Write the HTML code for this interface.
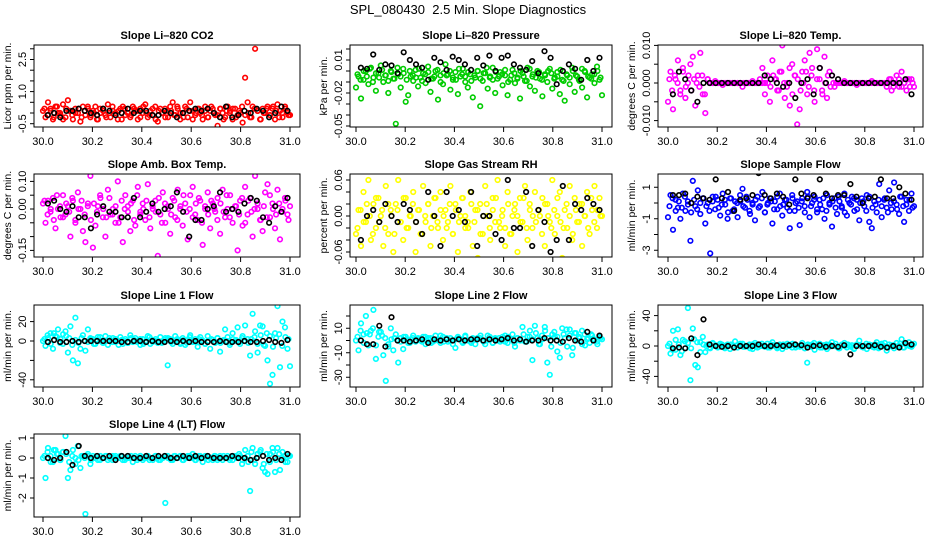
<!DOCTYPE html>
<html><head><meta charset="utf-8"><title>SPL_080430 2.5 Min. Slope Diagnostics</title>
<style>
html,body{margin:0;padding:0;background:#fff;}
svg{display:block;font-family:"Liberation Sans",Arial,sans-serif;}
</style></head>
<body>
<svg id="chart" width="936" height="540" viewBox="0 0 936 540">
<rect width="936" height="540" fill="#fff"/>
<text x="468" y="14" text-anchor="middle" font-size="13">SPL_080430&#160;&#160;2.5 Min. Slope Diagnostics</text>
</svg>
<script>
// ---- data (index-ordered samples over 30.0 .. 31.0) ----
const xTickLabels = ["30.0","30.2","30.4","30.6","30.8","31.0"];
const xTickValues = [30.0,30.2,30.4,30.6,30.8,31.0];

const co2Red = [0.1,-0.2,0.5,0.2,-0.3,0.3,0.0,-0.1,0.4,-0.2,0.6,0.1,-0.3,0.2,0.0,-0.4,0.3,-0.1,0.2,-0.2,0.1,0.3,-0.3,0.0,0.2,-0.1,0.4,-0.2,0.1,0.0,-0.3,0.2,0.3,-0.1,0.0,-0.2,0.3,0.1,-0.3,0.2,0.0,0.4,-0.2,0.1,-0.1,0.3,-0.4,0.2,0.0,-0.2,0.1,0.3,0.5,-0.1,0.2,-0.3,0.0,0.3,-0.2,0.5,0.1,-0.1,0.2,0.0,-0.3,0.3,-0.2,0.1,0.2,-0.1,-0.6,0.2,0.0,-0.2,0.3,0.1,-0.3,0.2,-0.1,0.0,-0.45,1.65,0.5,-0.2,0.3,3.0,0.1,-0.3,0.2,0.0,0.3,-0.1,0.2,-0.3,0.4,0.1,-0.2,0.3,0.0,-0.1];
const co2Core = [0.2,-0.1,0.1,-0.2,0.3,0.0,-0.3,0.2,0.1,-0.1,0.0,0.2,-0.2,0.1,0.3,-0.1,0.0,-0.3,0.2,0.1,-0.2,0.0,0.3,-0.1,0.1,-0.3,0.2,0.0,-0.1,0.2,0.1,-0.2,0.3,0.0,-0.1,0.2,-0.3,0.1,0.0,0.2,-0.2,0.1,-0.1,0.3,0.0,-0.2,0.2,0.1,-0.3,0.0,0.2,-0.1,0.1,-0.2,0.3,0.0,-0.1,0.2,-0.3,0.1,0.0,0.2,-0.2,0.1,0.3,-0.1,0.0,-0.2,0.2,0.1,-0.3,0.0,0.2,-0.1,0.3,0.1,-0.2,0.0,0.2,-0.1];
const co2Black = [-0.1,0.0,-0.2,0.1,0.1,0.2,0.1,0.0,-0.1,0.2,0.1,-0.1,0.0,0.2,0.0,0.1,0.1,-0.1,-0.1,0.1,0.0,-0.2,0.0,0.1,0.2,0.1,0.2,0.0,-0.2,0.3,-0.2,-0.1,0.1,0.0,0.2,0.1,-0.2,0.0,0.3,0.1];

const pressureGreenMilli = [-15,-5,-25,-8,0,-12,3,-6,-18,-2,5,-10,-4,-20,0,-7,-48,-3,-15,2,-28,-22,-5,-9,1,-14,-6,-2,-11,4,-19,-7,0,-26,-4,-12,6,-3,-17,-8,-1,-21,-5,2,-10,-15,-3,-24,-6,0,-32,-9,-2,-16,-5,3,-20,-7,-1,-13,-4,-22,-8,1,-11,-6,-25,-2,-9,3,-14,-5,-18,0,-7,-23,-3,-10,2,-16,-6,-1,-21,-8,-27,-4,-12,3,-19,-5,-9,-15,0,-24,-6,-3,-11,4,-8,-22];
const pressureCoreMilli = [-3,-8,0,-5,2,-10,-2,-6,1,-4,-9,-1,-7,3,-5,-2,-8,0,-4,-6,2,-9,-3,-1,-7,-5,1,-10,-2,-4,0,-6,-8,2,-3,-5,-1,-9,-4,0,-7,-2,3,-6,-8,-1,-5,-3,1,-10,-4,-2,-7,0,-5,-9,2,-3,-6,-1,-8,-4,0,-2,-7,-5,1,-9,-3,-6,0,-4,-8,2,-1,-5,-7,-3,0,-6];
const pressureBlackMilli = [3,2,15,1,6,5,-2,17,10,6,3,-8,12,8,1,13,10,6,1,12,5,14,0,12,14,6,3,1,9,-2,18,12,-12,0,6,2,-8,10,0,12];

const tempMagentaMilli = [-5,3,-7,1,6,-2,4,-4,0,5,7,-6,2,8,-3,-8,1,0,0,0.5,0,0,-0.5,0,0,0,0,0,0,0,-1,0,0,0,0.5,0,0,1,4,-3,2,-5,6,1,-2,3,10,-4,0,-6,5,2,-11,-7,3,6,-3,8,4,-5,9,1,-2,7,-4,3,2,-1,0,0,0,0.5,0,0,0,0,-0.5,0,0,0,0,0,0.5,0,0,0,0,0,-1,1,-2,0,2,-1,3,0,-2,1,1,-1];
const tempCoreMilli = [1,-2,2,0,-3,3,-1,2,-2,1,0,-1,2,-3,1,0,0,0,0,0,0,0,0,0,0,0,0,0,0,0,0,0,0,0,0,0,0,-1,2,1,-2,3,0,-1,4,-3,2,1,-2,0,3,-1,2,-2,1,4,-3,0,2,-1,0,0,0,0,0,0,0,0,0,0,0,0,0,0,0,0,0,0,0,0,0,1,-1,0,1,-1,0,1,-1,0];
const tempBlackMilli = [-3,3,1,-2,-5,0,0,0,0,0,0,0,0,0,0,2,1,0,-1,0,-4,0,1,-3,4,0,2,1,0,0,0,0,0,0,0,0,0,0,1,-3];

const boxTempMagentaCenti = [2,-5,3,-1,4,-7,0,-3,5,-2,1,-10,3,-4,6,0,-8,-12,2,12,-14,-6,1,4,-3,-10,7,-2,0,-5,10,-3,-12,5,1,-8,3,-6,8,-1,2,-4,9,-7,0,3,-17,-2,6,-5,1,-9,4,-3,7,0,-6,2,-11,5,8,-2,-4,3,-13,0,6,-7,2,-1,4,-9,7,-3,0,5,-5,1,-15,3,-6,8,-2,4,-10,12,0,-4,-8,6,9,-3,2,-7,7,-11,0,4,-2,1];
const boxTempCoreCenti = [3,-2,0,-4,5,1,-3,2,-1,4,-5,0,3,-2,1,-4,2,-1,5,0,-3,4,-2,1,-5,3,0,-1,2,-4,5,-2,0,3,-3,1,-1,4,-5,2,0,-2,3,-4,1,5,-1,0,-3,2,4,-5,1,-2,3,0,-4,2,-1,5,-3,0,1,-2,4,-5,3,-1,0,2,-4,1,-3,5,0,-2,2,-1,3,-4];
const boxTempBlackCenti = [2,3,0,-1,1,-3,-3,-7,-2,1,-1,-1,-3,-3,4,-3,-1,2,-1,0,1,6,-1,-10,-4,-4,0,1,6,-1,0,-1,2,4,3,-3,-5,1,-1,4];

const rhYellowCenti = [-3,1,-5,4,-1,6,-4,2,-2,3,0,-5,5,-3,1,-6,2,6,-1,-4,3,-2,0,4,-6,1,-3,5,-1,2,-5,0,3,-2,4,-4,1,-1,5,-3,2,-6,0,3,-2,-1,4,-5,1,-7,2,-3,5,0,-4,3,-1,6,-2,1,-5,4,-3,0,2,-6,3,-1,5,-4,1,-2,4,-8,0,3,-5,2,-1,6,-3,0,4,-7,1,-2,5,-4,3,-1,2,-5,0,4,-3,1,5,-2,3,0];
const rhCoreCenti = [-2,1,-1,2,0,-3,3,-1,1,-2,2,0,-3,1,-1,3,-2,0,2,-1,1,-3,0,2,-2,3,-1,1,0,-2,2,-3,1,-1,3,0,-2,2,-1,1,-3,0,2,-2,1,3,-1,0,-2,2,-3,1,0,-1,3,-2,2,0,-1,1,-3,2,0,-2,1,3,-1,-2,2,0,-3,1,-1,2,0,-2,3,-1,1,0];
const rhBlackCenti = [-4,0,1,-1,2,0,-1,2,1,-1,-3,4,0,-5,4,0,1,-1,4,-5,0,0,-3,-4,6,-2,-2,4,-5,1,-1,-6,-4,5,-4,2,1,3,2,1];

const sampleFlowBlue = [-0.9,0.5,-1.7,0.2,-0.3,-1.0,0.6,-0.5,0.1,-2.4,1.4,-0.2,0.8,-0.7,0.3,-1.3,0.0,-3.2,0.4,-0.4,0.2,-0.8,0.6,-0.1,-1.0,0.3,-0.5,0.1,-0.9,0.5,0.9,-0.3,0.2,-0.7,0.0,-1.1,0.4,-0.2,0.7,-0.6,-0.1,0.3,-1.3,0.1,-0.4,0.6,-0.8,0.2,-0.3,-1.6,0.5,-0.5,0.1,-1.4,0.3,-0.2,0.7,-0.9,0.0,0.4,-0.6,0.2,-0.4,-1.0,0.5,-0.1,-1.5,0.3,-0.7,0.1,-0.3,0.6,-0.8,0.0,0.4,-0.5,0.2,-1.1,0.3,-0.2,0.5,-1.2,-1.6,0.1,-0.6,1.2,-0.9,0.2,-0.3,0.8,-0.4,1.3,-0.1,-0.7,0.4,-1.2,0.2,-0.5,0.6,-0.2];
const sampleFlowCore = [-0.2,0.3,-0.5,0.1,-0.3,0.4,-0.1,-0.6,0.2,-0.4,0.0,0.3,-0.2,-0.5,0.1,0.4,-0.3,-0.1,0.2,-0.6,0.3,-0.4,0.0,0.1,-0.2,0.4,-0.5,-0.1,0.2,-0.3,0.3,-0.6,0.0,0.1,-0.4,0.4,-0.2,-0.1,0.2,-0.5,0.3,0.0,-0.3,0.1,-0.6,0.4,-0.2,0.2,-0.4,-0.1,0.3,-0.5,0.0,0.1,-0.3,0.4,-0.2,-0.6,0.2,-0.1,0.3,-0.4,0.0,0.1,-0.5,0.4,-0.3,-0.1,0.2,-0.2,0.3,-0.6,0.0,0.1,-0.4,0.4,-0.2,-0.1,0.2,-0.3];
const sampleFlowBlack = [0.5,0.5,0.6,0.0,0.4,0.3,0.2,1.5,0.3,0.7,-0.5,0.2,0.3,0.5,1.9,0.5,0.3,0.6,0.4,-0.1,1.5,0.6,0.3,0.5,1.5,0.6,0.3,0.5,0.5,1.2,0.4,0.0,0.3,0.4,1.5,0.3,0.3,1.0,0.6,0.2];

const line1Cyan = [0,-5,3,8,-8,5,12,2,-3,10,-12,15,-20,24,-23,-8,6,-10,12,3,2,-3,4,0,-2,5,-4,1,3,-1,0,4,-3,2,-2,6,-1,3,0,-4,2,-1,5,-3,1,0,-2,4,-1,3,-25,2,-3,5,0,-2,3,-4,1,6,-1,2,-6,4,0,-3,5,-8,1,-2,3,-11,0,12,4,-2,8,0,14,-3,5,16,2,-15,28,10,-12,16,15,-5,-20,-44,-35,8,36,-27,20,14,-8,-26];
const line1Core = [2,6,-3,8,4,-2,7,5,3,-4,1,-2,3,0,-1,2,-3,1,4,-2,0,3,-1,2,-4,1,0,-2,3,1,-1,2,-3,0,4,-1,2,0,-2,1,3,-1,0,2,-3,1,-2,4,0,-1,2,1,-3,0,2,-1,3,-2,1,0,-4,2,1,-1,3,0,-2,2,4,-3,6,-4,8,5,-6,3,7,-5,4,2];
const line1Black = [-1,1,-1,-1,0,-1,0,0,0,0,0,0,-1,-1,0,0,-1,0,-1,-1,0,-1,0,-1,0,-1,-1,-1,0,-1,-1,-1,0,-1,-1,0,1,-1,-2,1];

const line2Cyan = [0,-8,14,5,20,-4,8,25,-15,3,7,-12,-33,-5,10,-8,5,-18,2,-7,3,-2,1,4,-1,2,0,3,-3,1,2,-1,4,0,-2,3,1,-1,2,0,-6,3,1,-2,4,0,-1,2,-3,1,2,0,-3,4,1,-2,2,0,-1,3,4,-2,1,5,-5,2,0,11,-1,3,8,-16,12,2,-3,1,11,-18,-28,5,3,-9,-14,10,2,-5,9,-12,6,0,2,-3,5,1,-2,4,0,-1,3,1];
const line2Core = [3,8,-2,6,5,10,-4,7,4,2,-3,1,2,0,-1,3,1,-2,2,0,1,-1,3,2,-2,0,1,4,-1,2,0,-3,1,2,-1,3,0,-2,1,2,4,-1,0,3,-2,1,2,0,-1,3,1,-2,2,0,5,-1,3,1,6,-3,4,8,2,-5,7,3,-2,5,9,4,-6,6,3,8,-4,2,5,1,-3,2];
const line2Black = [0,-3,-3,12,-5,19,0,0,-1,0,1,-2,1,0,1,0,1,0,1,1,0,1,0,1,2,0,1,-1,0,0,2,0,0,-1,2,0,-1,7,0,4];

const line3Cyan = [0,-10,20,-5,22,-12,8,-3,50,-45,23,-25,-28,5,12,-8,2,-3,4,0,-2,3,1,-1,2,-4,0,6,-2,1,3,-1,0,-3,2,4,-2,1,0,-1,3,-2,5,0,-1,2,-4,1,3,0,-2,2,0,-1,4,-3,-22,1,2,-5,0,3,-2,1,-4,2,5,0,-1,-3,2,4,-2,0,1,-3,2,7,-1,0,-4,2,1,-2,5,-1,3,0,-6,2,1,-3,4,0,9,-2,1,5,-1,3];
const line3Core = [3,-5,8,2,-7,6,4,-3,9,5,-8,2,0,-2,3,1,-1,2,-3,0,2,-2,1,3,-1,0,2,-4,1,-1,3,0,-2,2,1,-3,0,2,-1,1,3,-2,0,1,-3,2,-1,4,0,-2,1,2,-1,0,3,-3,1,0,2,-1,-4,2,1,-2,3,0,-1,2,-3,1,4,-2,0,1,-1,3,-2,2,0,1];
const line3Black = [-3,-2,-3,10,-12,35,2,0,-1,0,-2,0,0,0,2,0,0,1,0,1,2,1,-2,0,1,-1,0,-1,1,-11,0,0,0,1,-1,-2,0,-2,4,2];

const line4Cyan = [0,-1.0,0.5,0.1,-0.2,0.4,0.2,-0.1,0.3,1.1,-1.0,-0.6,0.4,-0.3,0.6,-0.5,0.1,-2.8,0.2,-0.3,0.1,0.0,-0.1,0.1,0.0,0.1,-0.1,0.0,0.1,0.0,0.0,0.1,-0.1,0.0,0.1,0.0,-0.2,0.1,0.0,0.1,-0.1,0.0,0.1,0.0,-0.1,0.1,0.0,-0.1,0.0,-2.25,0.1,0.0,-0.1,0.1,0.0,0.1,-0.1,0.0,0.1,0.0,0.2,-0.1,0.0,0.1,-0.2,0.0,0.1,0.0,-0.1,0.1,0.0,0.1,-0.1,0.0,0.1,0.0,-0.1,0.1,0.0,0.1,-0.1,0.0,0.1,-1.65,0.5,-0.3,0.2,0.3,-0.5,-0.7,-0.8,0.2,0.5,-0.7,0.5,-0.6,0.3,0.1,-0.2,0.1];
const line4Core = [0.1,0.3,-0.2,0.4,0.2,-0.1,0.3,0.2,-0.2,0.1,0.0,-0.1,0.1,0.0,0.1,-0.1,0.0,0.1,-0.1,0.0,0.1,0.0,-0.1,0.1,0.0,0.1,-0.1,0.0,0.1,0.0,-0.1,0.1,0.0,0.1,-0.1,0.0,0.1,-0.1,0.0,0.1,0.0,-0.1,0.1,0.0,0.1,-0.1,0.0,0.1,0.0,-0.1,0.1,0.0,0.1,-0.1,0.0,0.1,-0.1,0.0,0.1,0.0,-0.1,0.1,0.0,0.2,-0.3,0.4,-0.2,0.3,-0.1,0.2,0.4,-0.3,0.2,-0.2,0.3,-0.1,0.2,0.0,-0.2,0.1];
const line4Black = [0,-0.1,0.0,0.3,-0.35,0.6,0.1,0.0,0.1,0.0,0.1,-0.1,0.1,0.1,0.0,0.0,0.1,0.0,0.1,0.1,0.0,0.0,0.1,0.0,0.1,0.0,0.1,0.0,0.0,0.0,0.1,0.0,0.0,-0.1,0.0,0.1,-0.1,0.0,-0.1,0.2];

// ---- layout ----
const NS = "http://www.w3.org/2000/svg";
const svg = document.getElementById("chart");
const cols = [{l:34,r:300,x0:43,x1:290},{l:350,r:612,x0:356,x1:602},{l:658,r:923,x0:668,x1:914}];
const rows = [{t:45,b:127},{t:174,b:257},{t:305,b:387},{t:434,b:517}];

const panels = [
 {name:"co2",title:"Slope Li\u2013820 CO2",ylab:"Licor ppm per min.",c:0,r:0,y0:113,k:21.4,color:"#ff0000",main:co2Red,core:co2Core,black:co2Black,
  ticks:[3,2.5,2,1.5,1,0.5,0,-0.5],labels:{"2.5":"2.5","1":"1.0","-0.5":"-0.5"}},
 {name:"pressure",title:"Slope Li\u2013820 Pressure",ylab:"kPa per min.",c:1,r:0,y0:71,k:1.1,color:"#00cc00",main:pressureGreenMilli,core:pressureCoreMilli,black:pressureBlackMilli,
  ticks:[20,10,0,-10,-20,-30,-40,-50],labels:{"10":"0.01","-20":"-0.02","-50":"-0.05"}},
 {name:"temp",title:"Slope Li\u2013820 Temp.",ylab:"degrees C per min.",c:2,r:0,y0:83,k:3.76,color:"#ff00ff",main:tempMagentaMilli,core:tempCoreMilli,black:tempBlackMilli,
  ticks:[10,5,0,-5,-10],labels:{"10":"0.010","0":"0.000","-10":"-0.010"}},
 {name:"box-temp",title:"Slope Amb. Box Temp.",ylab:"degrees C per min.",c:0,r:1,y0:209,k:2.76,color:"#ff00ff",main:boxTempMagentaCenti,core:boxTempCoreCenti,black:boxTempBlackCenti,
  ticks:[10,5,0,-5,-10,-15],labels:{"10":"0.10","0":"0.00","-15":"-0.15"}},
 {name:"gas-rh",title:"Slope Gas Stream RH",ylab:"percent per min.",c:1,r:1,y0:216,k:6,color:"#ffff00",main:rhYellowCenti,core:rhCoreCenti,black:rhBlackCenti,
  ticks:[6,4,2,0,-2,-4,-6],labels:{"6":"0.06","0":"0.00","-6":"-0.06"}},
 {name:"sample-flow",title:"Slope Sample Flow",ylab:"ml/min per min.",c:2,r:1,y0:203,k:15.75,color:"#0000ff",main:sampleFlowBlue,core:sampleFlowCore,black:sampleFlowBlack,
  ticks:[1,0,-1,-2,-3],labels:{"1":"1","-1":"-1","-3":"-3"}},
 {name:"line1-flow",title:"Slope Line 1 Flow",ylab:"ml/min per min.",c:0,r:2,y0:341,k:0.97,color:"#00ffff",main:line1Cyan,core:line1Core,black:line1Black,
  ticks:[20,0,-20,-40],labels:{"20":"20","0":"0","-40":"-40"}},
 {name:"line2-flow",title:"Slope Line 2 Flow",ylab:"ml/min per min.",c:1,r:2,y0:340.5,k:1.225,color:"#00ffff",main:line2Cyan,core:line2Core,black:line2Black,
  ticks:[20,10,0,-10,-20,-30],labels:{"10":"10","-10":"-10","-30":"-30"}},
 {name:"line3-flow",title:"Slope Line 3 Flow",ylab:"ml/min per min.",c:2,r:2,y0:346,k:0.76,color:"#00ffff",main:line3Cyan,core:line3Core,black:line3Black,
  ticks:[40,20,0,-20,-40],labels:{"40":"40","0":"0","-40":"-40"}},
 {name:"line4-flow",title:"Slope Line 4 (LT) Flow",ylab:"ml/min per min.",c:0,r:3,y0:458,k:20,color:"#00ffff",main:line4Cyan,core:line4Core,black:line4Black,
  ticks:[1,0,-1,-2],labels:{"1":"1","0":"0","-1":"-1","-2":"-2"}}
];

function mk(tag, attrs, parent){
  const e = document.createElementNS(NS, tag);
  for (const a in attrs) e.setAttribute(a, attrs[a]);
  (parent||svg).appendChild(e);
  return e;
}

panels.forEach((p, pi) => {
  const col = cols[p.c], row = rows[p.r];
  const g = mk("g", {});
  
  
  const xs = v => col.x0 + (v - 30) * (col.x1 - col.x0);
  const ys = v => p.y0 - v * p.k;

  const cp = mk("clipPath", {id:"clip"+pi}, g);
  mk("rect", {x:col.l, y:row.t, width:col.r-col.l, height:row.b-row.t}, cp);

  const t = mk("text", {x:(col.l+col.r)/2, y:row.t-6, "text-anchor":"middle", "font-size":"11", "font-weight":"bold"}, g);
  t.textContent = p.title;
  
  

  const yl = mk("text", {x:0, y:0, "text-anchor":"middle", "font-size":"10.5",
    transform:`translate(${col.l-23},${(row.t+row.b)/2}) rotate(-90)`}, g);
  yl.textContent = p.ylab;
  
  

  const pts = mk("g", {"clip-path":`url(#clip${pi})`}, g);
  
  
  const n = p.main.length;
  p.main.forEach((v, i) => {
    const tx = 30 + i / (n - 1);
    const c = mk("circle", {cx:xs(tx).toFixed(1), cy:ys(v).toFixed(1), r:2.3, fill:"none", stroke:p.color, "stroke-width":1.6}, pts);
    
    
  });
  const nc = p.core.length;
  p.core.forEach((v, i) => {
    const tx = 30 + (i + 0.5) / nc;
    const c = mk("circle", {cx:xs(tx).toFixed(1), cy:ys(v).toFixed(1), r:2.3, fill:"none", stroke:p.color, "stroke-width":1.6}, pts);
    
    
  });
  const nb = p.black.length;
  p.black.forEach((v, i) => {
    const tx = 30.02 + i * 0.97 / (nb - 1);
    const c = mk("circle", {cx:xs(tx).toFixed(1), cy:ys(v).toFixed(1), r:2.3, fill:"none", stroke:"#000", "stroke-width":1.6}, pts);
    
    
  });

  const bx = mk("rect", {x:col.l, y:row.t, width:col.r-col.l, height:row.b-row.t, fill:"none", stroke:"#000", "stroke-width":1}, g);
  
  

  xTickValues.forEach((v, i) => {
    const x = xs(v);
    mk("line", {x1:x, x2:x, y1:row.b, y2:row.b+5, stroke:"#000"}, g);
    const tl = mk("text", {x:x, y:row.b+18, "text-anchor":"middle", "font-size":"11"}, g);
    tl.textContent = xTickLabels[i];
    
    
  });
  mk("line", {x1:xs(30), x2:xs(31), y1:row.b, y2:row.b, stroke:"#000"}, g);

  p.ticks.forEach(v => {
    const y = ys(v);
    mk("line", {x1:col.l-4, x2:col.l, y1:y, y2:y, stroke:"#000"}, g);
    const lab = p.labels[String(v)];
    if (lab !== undefined) {
      const tl = mk("text", {x:0, y:0, "text-anchor":"middle", "font-size":"11",
        transform:`translate(${col.l-8},${y}) rotate(-90)`}, g);
      tl.textContent = lab;
      
      
    }
  });
});
</script>
</body></html>
